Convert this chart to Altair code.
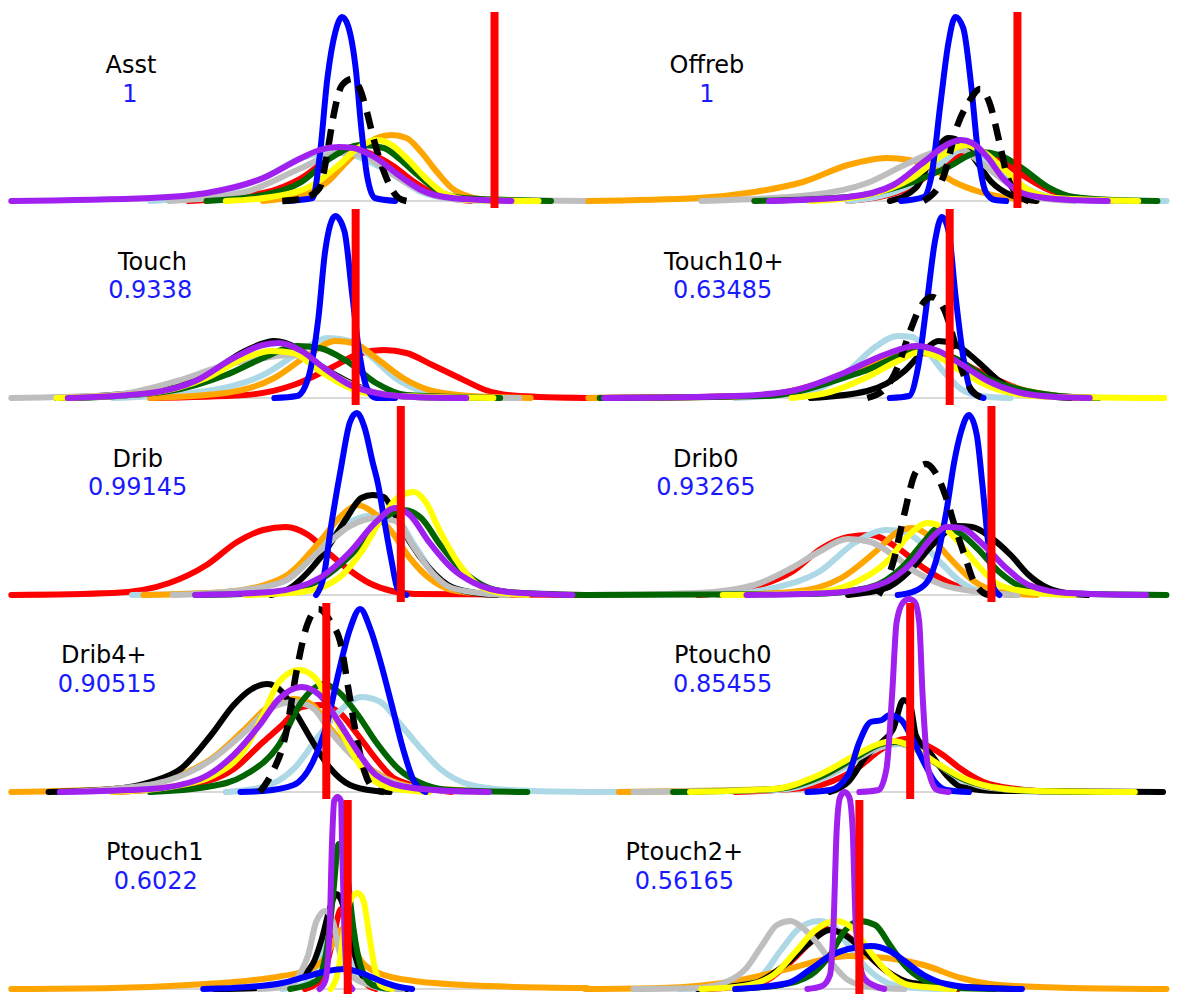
import altair as alt
import pandas as pd

# ---------------- data ----------------
# each curve: list of (x, height) points; x in panel units, height above baseline (px)
ASST = {
    "blue": [(253,0),(277,3),(283,43),(290,123),(297,169),(303,184),(308,176),(315,133),(320,73),(325,26),(332,3),(350,0)],
    "dash": [(250,0),(270,3),(283,13),(290,49),(295,83),(303,116),(312,122),(318,114),(325,89),(330,66),(337,39),(345,16),(353,3),(360,0)],
    "orange": [(233,0),(267,6),(290,19),(307,39),(327,59),(347,66),(360,63),(373,49),(387,29),(400,13),(417,4),(433,1),(440,0)],
    "yellow": [(200,0),(240,4),(277,16),(300,36),(317,53),(333,61),(347,56),(360,43),(377,23),(393,8),(417,1),(477,0)],
    "green": [(183,0),(233,6),(267,19),(293,43),(320,56),(340,53),(353,43),(370,26),(387,11),(410,3),(488,0)],
    "red": [(167,0),(233,8),(267,23),(293,44),(310,53),(327,48),(347,36),(367,19),(387,6),(417,0)],
    "lightblue": [(133,0),(183,6),(233,23),(267,43),(293,49),(313,46),(333,36),(353,23),(373,9),(400,2),(433,0)],
    "gray": [(150,0),(217,9),(267,33),(300,48),(320,46),(340,33),(360,18),(383,6),(417,1),(523,0)],
    "purple": [(10,0),(133,3),(183,8),(233,23),(267,43),(283,51),(300,54),(313,53),(333,43),(353,26),(373,11),(400,3),(453,0)],
}
OFFREB = {
    "blue": [(280,0),(300,4),(307,26),(315,99),(322,159),(328,184),(335,173),(342,116),(348,49),(355,9),(363,1),(373,0)],
    "dash": [(300,0),(317,23),(330,76),(340,99),(350,112),(358,99),(367,59),(373,29),(383,6),(393,0)],
    "black": [(270,0),(293,13),(307,43),(322,63),(333,59),(347,39),(360,19),(377,6),(400,0)],
    "orange": [(3,0),(100,3),(150,9),(193,19),(233,36),(267,43),(287,41),(307,33),(327,19),(350,9),(377,3),(400,0)],
    "gray": [(103,0),(200,6),(250,18),(283,36),(310,49),(330,53),(350,39),(373,19),(400,4),(433,0)],
    "yellow": [(200,0),(250,6),(290,23),(317,46),(337,56),(353,49),(370,33),(390,13),(417,3),(490,0)],
    "green": [(150,0),(233,4),(283,16),(320,33),(350,49),(367,46),(387,33),(410,14),(433,4),(467,1),(507,0)],
    "red": [(233,0),(283,11),(317,36),(343,51),(360,46),(383,29),(407,13),(433,3),(467,0)],
    "lightblue": [(233,0),(283,13),(317,39),(333,51),(353,43),(377,23),(400,8),(433,1),(515,0)],
    "purple": [(163,0),(233,4),(273,16),(300,39),(320,56),(333,61),(343,58),(357,43),(370,23),(387,8),(417,2),(463,0)],
}
TOUCH = {
    "blue": [(243,0),(263,2),(273,20),(282,80),(288,147),(297,182),(305,167),(312,103),(318,47),(325,10),(333,0),(350,0)],
    "black": [(50,0),(133,7),(183,23),(217,47),(243,57),(263,50),(283,33),(307,17),(333,5),(367,1),(400,0)],
    "purple": [(60,0),(133,5),(173,17),(207,40),(233,53),(247,55),(267,47),(287,30),(310,13),(333,5),(367,1),(413,0)],
    "yellow": [(50,0),(133,5),(183,20),(217,40),(240,47),(260,45),(283,27),(310,10),(333,3),(437,0)],
    "gray": [(10,0),(100,3),(157,17),(200,33),(233,40),(257,43),(277,37),(300,20),(327,7),(367,1),(460,0)],
    "green": [(67,0),(150,7),(200,23),(233,40),(263,52),(283,50),(307,37),(333,15),(360,3),(443,0)],
    "lightblue": [(100,0),(183,7),(233,23),(267,47),(290,60),(310,57),(330,40),(350,20),(373,7),(400,1),(420,0)],
    "orange": [(133,0),(200,5),(243,20),(273,43),(297,57),(313,55),(333,40),(357,20),(383,7),(417,2),(470,0)],
    "red": [(133,0),(217,3),(260,13),(293,30),(320,45),(340,48),(360,45),(383,33),(407,20),(430,8),(460,2),(520,0)],
}
TOUCH10 = {
    "red": [(0,0),(150,2),(230,22),(290,46),(315,44),(350,26),(400,4),(440,0)],
    "orange": [(3,0),(150,2),(240,25),(290,45),(318,42),(360,18),(420,2),(450,0)],
    "green": [(13,0),(160,2),(245,26),(295,46),(320,43),(360,18),(420,2),(455,0)],
    "blue": [(270,0),(287,2),(295,31),(303,97),(310,157),(316,181),(322,167),(328,104),(335,41),(342,7),(353,0)],
    "dash": [(250,0),(267,11),(277,31),(287,64),(297,91),(307,101),(317,91),(327,57),(333,31),(343,7),(353,0)],
    "black": [(200,0),(250,7),(283,27),(300,47),(313,57),(327,54),(340,44),(353,31),(367,17),(383,7),(417,1),(430,0)],
    "lightblue": [(133,0),(200,7),(233,27),(257,51),(277,62),(290,61),(303,47),(317,27),(333,9),(350,2),(377,0)],
    "yellow": [(183,0),(217,6),(250,21),(277,37),(297,46),(313,41),(333,27),(357,12),(383,4),(417,1),(513,0)],
    "purple": [(17,0),(133,2),(183,7),(227,24),(267,44),(293,52),(313,47),(333,34),(357,17),(383,6),(417,1),(447,0)],
}
DRIB = {
    "blue": [(280,0),(287,20),(293,67),(302,127),(310,173),(316,182),(323,167),(330,133),(335,110),(340,77),(347,33),(352,7),(360,0)],
    "black": [(240,0),(257,7),(273,23),(290,47),(307,77),(320,97),(330,100),(340,98),(350,80),(363,53),(380,27),(400,8),(427,1),(440,0)],
    "orange": [(127,0),(200,3),(250,17),(283,53),(303,80),(317,90),(330,83),(347,63),(363,37),(380,17),(400,5),(433,1),(445,0)],
    "lightblue": [(117,0),(200,3),(250,13),(283,47),(310,73),(333,80),(350,77),(367,50),(383,23),(400,8),(433,1),(445,0)],
    "gray": [(153,0),(200,3),(250,13),(283,44),(310,69),(333,77),(350,74),(367,47),(383,22),(400,7),(433,1),(450,0)],
    "red": [(10,0),(100,2),(150,12),(183,30),(210,53),(233,65),(253,68),(273,60),(290,43),(307,27),(327,12),(347,4),(367,1),(520,0)],
    "yellow": [(217,0),(267,3),(300,17),(320,43),(340,80),(353,98),(367,103),(377,93),(390,63),(403,37),(420,13),(440,3),(467,0)],
    "green": [(173,0),(250,3),(290,20),(317,47),(340,77),(358,85),(373,77),(390,50),(407,27),(427,10),(450,3),(518,0)],
    "purple": [(173,0),(240,3),(283,17),(310,43),(333,73),(350,87),(363,80),(380,53),(400,27),(420,12),(450,3),(507,0)],
}
DRIB0 = {
    "blue": [(277,0),(290,3),(303,13),(313,43),(320,83),(327,133),(333,163),(340,180),(347,160),(352,110),(357,53),(362,7),(367,0)],
    "dash": [(260,0),(273,33),(282,77),(293,123),(302,131),(310,123),(320,97),(328,67),(337,37),(343,17),(353,2),(358,0)],
    "black": [(233,0),(267,7),(290,27),(310,53),(330,69),(343,68),(360,57),(377,40),(393,20),(410,7),(433,1),(445,0)],
    "gray": [(3,0),(100,2),(150,10),(183,27),(207,43),(233,56),(253,53),(273,40),(293,23),(317,10),(350,3),(383,0)],
    "red": [(100,0),(150,8),(183,23),(210,47),(233,58),(253,60),(277,47),(300,27),(327,10),(360,2),(380,0)],
    "lightblue": [(117,0),(167,7),(207,23),(240,53),(267,65),(283,63),(300,50),(317,30),(333,13),(353,3),(383,0)],
    "orange": [(120,0),(183,3),(227,17),(257,43),(277,63),(290,67),(307,57),(323,37),(343,15),(367,3),(400,0)],
    "yellow": [(122,0),(200,2),(240,13),(267,33),(287,60),(303,72),(317,68),(333,50),(350,27),(367,10),(400,2),(433,0)],
    "green": [(0,0),(200,1),(250,7),(283,30),(300,53),(313,67),(330,63),(347,47),(367,23),(387,8),(417,2),(515,0)],
    "purple": [(143,0),(217,2),(260,10),(290,33),(307,57),(320,68),(333,67),(353,50),(373,27),(393,10),(427,2),(497,0)],
}
DRIB4 = {
    "blue": [(213,0),(233,1),(260,7),(277,30),(290,70),(300,120),(310,163),(319,183),(328,163),(337,130),(347,87),(357,43),(367,10),(377,0)],
    "dash": [(230,0),(240,17),(253,57),(263,123),(272,167),(282,183),(293,170),(302,147),(308,107),(315,60),(323,20),(333,2),(340,0)],
    "black": [(43,0),(100,3),(133,10),(160,23),(187,57),(207,87),(223,103),(237,108),(250,100),(263,77),(277,50),(293,23),(310,7),(333,1),(345,0)],
    "orange": [(10,0),(100,3),(150,13),(187,33),(217,63),(240,87),(260,93),(277,87),(293,63),(317,33),(343,13),(367,5),(417,1),(425,0)],
    "gray": [(60,0),(100,3),(150,12),(187,32),(217,60),(240,84),(260,90),(277,84),(293,60),(317,31),(343,12),(367,4),(417,0)],
    "yellow": [(100,0),(150,5),(190,17),(217,43),(233,77),(247,110),(265,122),(280,113),(293,83),(307,50),(323,20),(343,5),(367,1),(380,0)],
    "purple": [(53,0),(133,3),(177,13),(207,37),(230,67),(247,93),(267,105),(283,97),(300,70),(317,40),(333,17),(360,5),(400,1),(433,0)],
    "red": [(100,0),(167,7),(207,23),(233,50),(250,67),(267,85),(283,87),(300,80),(317,57),(333,33),(350,13),(383,3),(400,0)],
    "green": [(133,0),(183,5),(217,17),(247,47),(267,90),(287,108),(300,100),(317,77),(333,50),(353,23),(377,7),(400,2),(467,0)],
    "lightblue": [(200,0),(233,5),(260,23),(283,57),(300,80),(320,95),(337,90),(353,70),(370,47),(390,23),(417,7),(450,2),(520,0)],
}
PTOUCH0 = {
    "lightblue": [(0,0),(170,2),(212,14),(243,33),(263,45),(278,48),(294,42),(313,27),(333,12),(360,4),(410,0)],
    "orange": [(30,0),(167,3),(207,16),(240,35),(262,47),(277,50),(292,44),(310,29),(333,14),(360,5),(400,1),(430,0)],
    "gray": [(43,0),(170,3),(210,15),(242,34),(263,46),(277,49),(293,43),(312,28),(333,13),(360,4),(420,0)],
    "green": [(78,0),(170,3),(210,16),(242,36),(262,48),(275,50),(292,44),(311,29),(333,14),(360,5),(400,1),(450,0)],
    "purple": [(243,0),(260,2),(267,23),(272,97),(276,170),(282,190),(287,193),(292,190),(296,170),(299,97),(304,23),(312,2),(322,0)],
    "blue": [(197,0),(217,2),(233,17),(243,50),(253,70),(263,72),(270,77),(280,72),(290,53),(300,30),(310,10),(320,2),(340,0)],
    "black": [(217,0),(233,10),(250,37),(263,50),(273,63),(282,92),(288,87),(293,57),(307,37),(320,17),(333,5),(367,1),(512,0)],
    "yellow": [(93,0),(167,3),(207,17),(240,37),(260,48),(273,51),(290,45),(310,30),(333,15),(360,5),(400,1),(487,0)],
    "red": [(133,0),(200,5),(240,23),(263,43),(283,53),(300,48),(317,37),(333,23),(353,10),(383,3),(417,0)],
}
PTOUCH1 = {
    "orange": [(10,0),(100,1),(167,4),(217,8),(250,13),(273,19),(287,30),(297,50),(303,60),(310,50),(320,28),(333,17),(367,8),(433,3),(520,1)],
    "blue": [(180,0),(220,2),(250,6),(270,12),(290,18),(305,20),(320,16),(335,9),(350,3),(365,0)],
    "black": [(190,0),(230,1),(260,8),(277,25),(285,50),(292,80),(298,95),(305,80),(312,45),(320,15),(330,4),(360,0)],
    "gray": [(230,0),(257,3),(265,14),(273,34),(280,67),(288,78),(295,67),(300,40),(310,15),(325,5),(357,0)],
    "lightblue": [(250,0),(270,5),(283,30),(293,60),(300,55),(310,30),(320,10),(340,0)],
    "green": [(257,0),(280,8),(290,44),(295,94),(300,145),(305,140),(308,111),(313,61),(320,21),(330,4),(345,0)],
    "red": [(270,0),(285,10),(295,50),(302,80),(307,70),(313,35),(320,10),(333,0)],
    "yellow": [(293,0),(300,21),(305,61),(310,88),(317,96),(322,88),(327,54),(332,21),(337,4),(347,0)],
    "purple": [(283,0),(288,8),(292,61),(294,144),(296,188),(299,192),(302,188),(303,144),(305,61),(308,8),(312,0)],
}
PTOUCH2 = {
    "orange": [(0,0),(67,1),(133,8),(183,21),(217,31),(233,33),(267,31),(300,24),(333,11),(367,4),(433,1),(515,0)],
    "gray": [(43,0),(100,1),(127,8),(143,21),(157,44),(170,64),(182,68),(193,61),(207,44),(220,24),(233,9),(253,2),(283,0)],
    "lightblue": [(83,0),(133,3),(157,14),(173,38),(190,61),(207,68),(220,63),(233,44),(247,24),(263,9),(283,2),(317,0)],
    "red": [(110,0),(155,6),(180,25),(200,47),(215,60),(230,55),(247,38),(267,18),(290,5),(330,0)],
    "black": [(100,0),(150,6),(177,24),(197,44),(217,59),(230,54),(247,38),(267,18),(290,6),(380,0)],
    "green": [(133,0),(173,4),(200,14),(217,34),(230,58),(243,68),(257,64),(270,44),(283,24),(300,9),(327,1),(363,0)],
    "blue": [(133,0),(180,6),(200,20),(217,33),(233,40),(253,43),(270,38),(283,28),(300,14),(320,5),(350,1),(387,0)],
    "yellow": [(103,0),(140,3),(167,14),(187,38),(203,58),(222,68),(237,61),(250,41),(267,18),(287,4),(327,0)],
    "purple": [(197,0),(210,3),(217,14),(220,61),(223,161),(226,192),(230,197),(234,192),(237,161),(240,61),(247,11),(257,3),(265,0)],
}

NAMES = ["Asst", "Offreb", "Touch", "Touch10+", "Drib", "Drib0", "Drib4+", "Ptouch0", "Ptouch1", "Ptouch2+"]
VALUES = ["1", "1", "0.9338", "0.63485", "0.99145", "0.93265", "0.90515", "0.85455", "0.6022", "0.56165"]
RED_LINE = [438, 383, 315, 323, 355, 360, 289, 288, 308, 243]
CURVES = [ASST, OFFREB, TOUCH, TOUCH10, DRIB, DRIB0, DRIB4, PTOUCH0, PTOUCH1, PTOUCH2]

# label layout (panel units)
NAME_X = [116, 108, 135, 123, 122, 107, 92, 122, 137, 88]
VALUE_X = [115, 108, 133, 122, 122, 107, 95, 122, 138, 88]
NAME_Y = [128, 128, 128, 128, 128, 128, 129, 129, 129, 129]
VALUE_Y = [99, 99, 100, 100, 100, 100, 100, 100, 100, 100]

ORDER = ["red", "lightblue", "orange", "black", "gray", "green", "yellow", "blue", "dash", "purple"]
COLORS = {
    "red": "#ff0000", "lightblue": "#add8e6", "orange": "#ffa500", "black": "#000000",
    "gray": "#bebebe", "green": "#006400", "yellow": "#ffff00", "blue": "#0000ff",
    "dash": "#000000", "purple": "#a020f0",
}

FONT = "DejaVu Sans"
PW, PH = 580, 197
UNITS_PER_PX = 0.8857  # panel x units per screen pixel


def make_panel(i):
    left = (i % 2 == 0)
    x0 = 8 if left else 3
    xs = alt.Scale(domain=[x0 * UNITS_PER_PX, (x0 + PW) * UNITS_PER_PX], nice=False, zero=False)
    ys = alt.Scale(domain=[-6, 191], nice=False, zero=False)
    layers = []
    base = alt.Chart(pd.DataFrame({"y": [0]})).mark_rule(color="#cccccc", strokeWidth=1.5).encode(
        x=alt.value(2), x2=alt.value(576), y=alt.Y("y:Q", scale=ys, axis=None))
    layers.append(base)
    curves = CURVES[i]
    for s in ORDER:
        if s not in curves:
            continue
        df = pd.DataFrame(curves[s], columns=["x", "y"])
        kw = dict(color=COLORS[s], strokeWidth=6, strokeCap="round", strokeJoin="round",
                  interpolate="monotone")
        if s == "dash":
            kw["strokeDash"] = [17, 11]
            kw["strokeCap"] = "butt"
            kw["strokeWidth"] = 6.5
        layers.append(alt.Chart(df).mark_line(**kw).encode(
            x=alt.X("x:Q", scale=xs, axis=None),
            y=alt.Y("y:Q", scale=ys, axis=None),
            order="x:Q"))
    red = alt.Chart(pd.DataFrame({"x": [RED_LINE[i]]})).mark_rule(color="#ff0000", strokeWidth=8).encode(
        x=alt.X("x:Q", scale=xs, axis=None), y=alt.value(2), y2=alt.value(198))
    layers.append(red)
    tdf = pd.DataFrame({"x": [NAME_X[i], VALUE_X[i]], "y": [NAME_Y[i], VALUE_Y[i]],
                        "t": [NAMES[i], VALUES[i]], "c": ["name", "value"]})
    txt = alt.Chart(tdf).mark_text(font=FONT, fontSize=24, align="center", baseline="alphabetic").encode(
        x=alt.X("x:Q", scale=xs, axis=None),
        y=alt.Y("y:Q", scale=ys, axis=None),
        text="t:N",
        color=alt.Color("c:N", scale=alt.Scale(domain=["name", "value"], range=["#000000", "#1a1aff"]), legend=None))
    layers.append(txt)
    return alt.layer(*layers).properties(width=PW, height=PH)


panels = [make_panel(i) for i in range(10)]
chart = alt.concat(*panels, columns=2, spacing=0, bounds="flush").properties(
    padding=0, background="white").configure_view(stroke=None)
chart.save("out.html", embed_options={"renderer": "svg", "actions": False})
